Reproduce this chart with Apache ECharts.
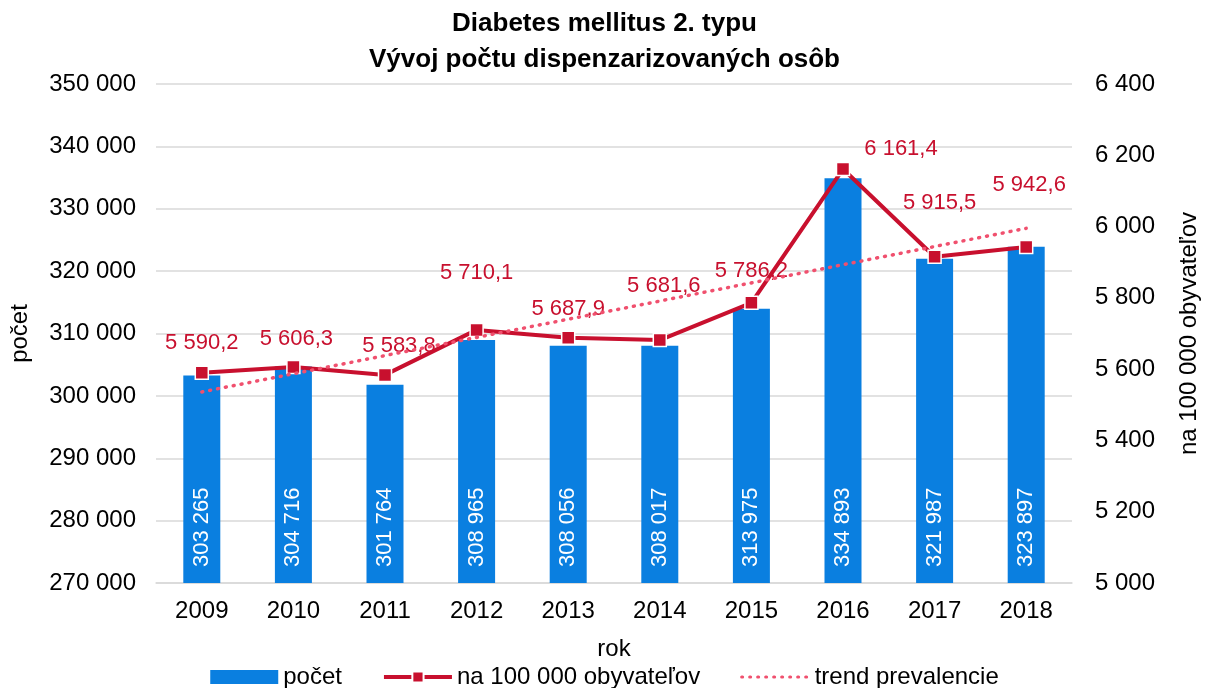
<!DOCTYPE html>
<html>
<head>
<meta charset="utf-8">
<title>Diabetes mellitus 2. typu</title>
<script src="https://cdn.jsdelivr.net/npm/echarts@6/dist/echarts.min.js"></script>
<style>
    html, body { margin: 0; padding: 0; background: #fff; }
    #main { width: 1209px; height: 688px; }
</style>
</head>
<body>
<div id="main"></div>
<script>
// data
var years = ['2009', '2010', '2011', '2012', '2013', '2014', '2015', '2016', '2017', '2018'];
var pocet = [303265, 304716, 301764, 308965, 308056, 308017, 313975, 334893, 321987, 323897];
var naObyv = [5590.2, 5606.3, 5583.8, 5710.1, 5687.9, 5681.6, 5786.2, 6161.4, 5915.5, 5942.6];
// trend line read at the first and last year
var trendStart = 5536;
var trendEnd = 5995;

// slovak number format: 303 265 / 5 590,2
function fmt(v, dec) {
    var s = Number(v).toFixed(dec || 0).split('.');
    var int = s[0].replace(/\B(?=(\d{3})+(?!\d))/g, ' ');
    return s.length > 1 ? int + ',' + s[1] : int;
}

var font = 'Liberation Sans, Arial, sans-serif';
var lineColor = '#C8102E';
var trendColor = '#F0506E';

// label shifts so they sit like in the excel chart
var labelShift = [[0, 0], [3, 1], [14, 0], [0, -28], [0, 0], [4, -25], [0, -3], [58, 9], [5, -25], [3, -33]];

var trendData = years.map(function (y, i) {
    if (i === 0) return trendStart;
    if (i === years.length - 1) return trendEnd;
    return null;
});

var chart = echarts.init(document.getElementById('main'));

var option = {
    animation: false,
    textStyle: { fontFamily: font },
    title: {
        text: 'Diabetes mellitus 2. typu\nVývoj počtu dispenzarizovaných osôb',
        left: 'center',
        top: 1,
        textStyle: { fontSize: 26, fontWeight: 'bold', color: '#000', lineHeight: 36, fontFamily: font }
    },
    legend: {
        top: 660,
        left: 'center',
        itemWidth: 68,
        itemHeight: 14,
        itemGap: 40,
        textStyle: { fontSize: 24, color: '#000', fontFamily: font },
        data: [
            { name: 'počet', icon: 'rect' },
            { name: 'na 100 000 obyvateľov', lineStyle: { width: 4 } },
            { name: 'trend prevalencie', itemStyle: { opacity: 0 }, lineStyle: { width: 3 } }
        ]
    },
    grid: { left: 155, right: 134, top: 84, bottom: 105 },
    xAxis: {
        type: 'category',
        data: years,
        name: 'rok',
        nameLocation: 'middle',
        nameGap: 54,
        nameTextStyle: { fontSize: 24, color: '#000' },
        axisLine: { lineStyle: { color: '#d9d9d9', width: 1.5 } },
        axisTick: { show: false },
        axisLabel: { fontSize: 24, color: '#000', margin: 16 }
    },
    yAxis: [{
        type: 'value',
        min: 270000,
        max: 350000,
        interval: 10000,
        name: 'počet',
        nameLocation: 'middle',
        nameRotate: 90,
        nameGap: 124,
        nameTextStyle: { fontSize: 24, color: '#000' },
        axisLine: { show: false },
        axisTick: { show: false },
        splitLine: { lineStyle: { color: '#d9d9d9', width: 1.5 } },
        axisLabel: { fontSize: 24, color: '#000', margin: 20, formatter: function (v) { return fmt(v); } }
    }, {
        type: 'value',
        min: 5000,
        max: 6400,
        interval: 200,
        name: 'na 100 000 obyvateľov',
        nameLocation: 'middle',
        nameRotate: 90,
        nameGap: 105,
        nameTextStyle: { fontSize: 24, color: '#000' },
        axisLine: { show: false },
        axisTick: { show: false },
        splitLine: { show: false },
        axisLabel: { fontSize: 24, color: '#000', margin: 23, formatter: function (v) { return fmt(v); } }
    }],
    series: [{
        name: 'počet',
        type: 'bar',
        barWidth: 37,
        itemStyle: { color: '#0A7FE0' },
        label: {
            show: true,
            position: 'insideBottom',
            distance: 16,
            rotate: 90,
            align: 'left',
            verticalAlign: 'middle',
            color: '#fff',
            fontSize: 22,
            formatter: function (p) { return fmt(p.value); }
        },
        data: pocet
    }, {
        name: 'na 100 000 obyvateľov',
        type: 'line',
        yAxisIndex: 1,
        symbol: 'rect',
        symbolSize: 13,
        lineStyle: { color: lineColor, width: 4 },
        itemStyle: { color: lineColor, borderColor: '#fff', borderWidth: 1.5 },
        label: {
            show: true,
            position: 'top',
            distance: 11,
            color: lineColor,
            fontSize: 22,
            formatter: function (p) { return fmt(p.value, 1); }
        },
        data: naObyv.map(function (v, i) {
            return { value: v, label: { offset: labelShift[i] } };
        }),
        z: 3
    }, {
        name: 'trend prevalencie',
        type: 'line',
        yAxisIndex: 1,
        symbol: 'none',
        connectNulls: true,
        itemStyle: { color: trendColor },
        lineStyle: { color: trendColor, width: 3.5, type: [1, 7], cap: 'round' },
        data: trendData,
        z: 4
    }]
};

chart.setOption(option);
</script>
</body>
</html>
